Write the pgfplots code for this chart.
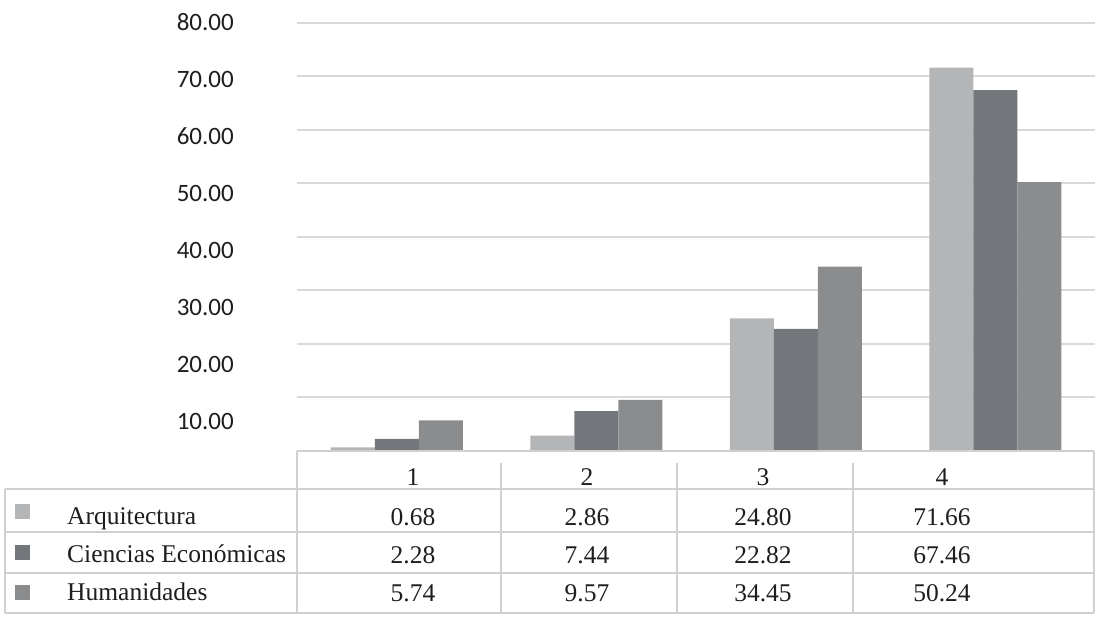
\documentclass[border=0pt]{standalone}
\usepackage{pgfplots}
\pgfplotsset{compat=1.18}
\usepackage{fontspec}
\setmainfont{Liberation Serif}
\newfontfamily\carlito{Carlito}
\definecolor{cA}{HTML}{B3B5B6}
\definecolor{cB}{HTML}{73767A}
\definecolor{cC}{HTML}{8A8C8E}
\definecolor{gridc}{HTML}{D9D9D9}
\definecolor{tabc}{HTML}{D0D0D0}
\definecolor{txt}{HTML}{1E1E1E}
\begin{document}
\begin{tikzpicture}[x=1pt,y=1pt]
\path (0,0) rectangle (1106,620);
% main bar axis
\begin{axis}[
  at={(297pt,169pt)}, anchor=south west,
  scale only axis, width=798pt, height=428pt,
  xmin=0.5, xmax=4.5, ymin=0, ymax=80,
  ybar=0pt, bar width=44pt,
  axis line style={draw=none},
  xtick=\empty, ytick={10,20,...,80}, yticklabels={},
  ymajorgrids, grid style={gridc, line width=2pt},
  major tick length=0pt,
  clip=false
]
\addplot[fill=cA, draw=none] coordinates {(1,0.68) (2,2.86) (3,24.80) (4,71.66)};
\addplot[fill=cB, draw=none] coordinates {(1,2.28) (2,7.44) (3,22.82) (4,67.46)};
\addplot[fill=cC, draw=none] coordinates {(1,5.74) (2,9.57) (3,34.45) (4,50.24)};
\end{axis}
% axis carrying the y tick labels
\begin{axis}[
  at={(297pt,142pt)}, anchor=south west,
  scale only axis, width=798pt, height=456pt,
  xmin=0, xmax=1, ymin=0, ymax=80,
  axis line style={draw=none},
  xtick=\empty, ytick={10,20,...,80},
  yticklabels={10.00,20.00,30.00,40.00,50.00,60.00,70.00,80.00},
  major tick length=0pt,
  yticklabel style={font=\carlito\fontsize{25}{30}\selectfont, text=txt, anchor=east, inner sep=0pt, xshift=-63pt}
]
\end{axis}
% data table
\begin{scope}[draw=tabc, line width=1.5pt]
  \draw (297,169) -- (1094,169);
  \draw (297,169) -- (297,7);
  \draw (1094,169) -- (1094,7);
  \foreach \cx in {501,677,853} {\draw (\cx,157) -- (\cx,7);}
  \foreach \ry in {131,88,47,7} {\draw (5,\ry) -- (1094,\ry);}
  \draw (5,131) -- (5,7);
\end{scope}
\fill[cA] (15,100.5) rectangle (30,115.5);
\fill[cB] (15,59.5) rectangle (30,74.5);
\fill[cC] (15,19.5) rectangle (30,34.5);
\begin{scope}[every node/.style={font=\fontsize{25.5}{30}\selectfont, text=txt, inner sep=0pt}]
  \node[anchor=base west] at (67,95) {Arquitectura};
  \node[anchor=base west] at (67,57) {Ciencias Económicas};
  \node[anchor=base west] at (67,19) {Humanidades};
  \node[anchor=base] at (413,134) {1};
  \node[anchor=base] at (587,134) {2};
  \node[anchor=base] at (763,134) {3};
  \node[anchor=base] at (942,134) {4};
  \node[anchor=base] at (413,94) {0.68};
  \node[anchor=base] at (587,94) {2.86};
  \node[anchor=base] at (763,94) {24.80};
  \node[anchor=base] at (942,94) {71.66};
  \node[anchor=base] at (413,56) {2.28};
  \node[anchor=base] at (587,56) {7.44};
  \node[anchor=base] at (763,56) {22.82};
  \node[anchor=base] at (942,56) {67.46};
  \node[anchor=base] at (413,18) {5.74};
  \node[anchor=base] at (587,18) {9.57};
  \node[anchor=base] at (763,18) {34.45};
  \node[anchor=base] at (942,18) {50.24};
\end{scope}
\end{tikzpicture}
\end{document}
